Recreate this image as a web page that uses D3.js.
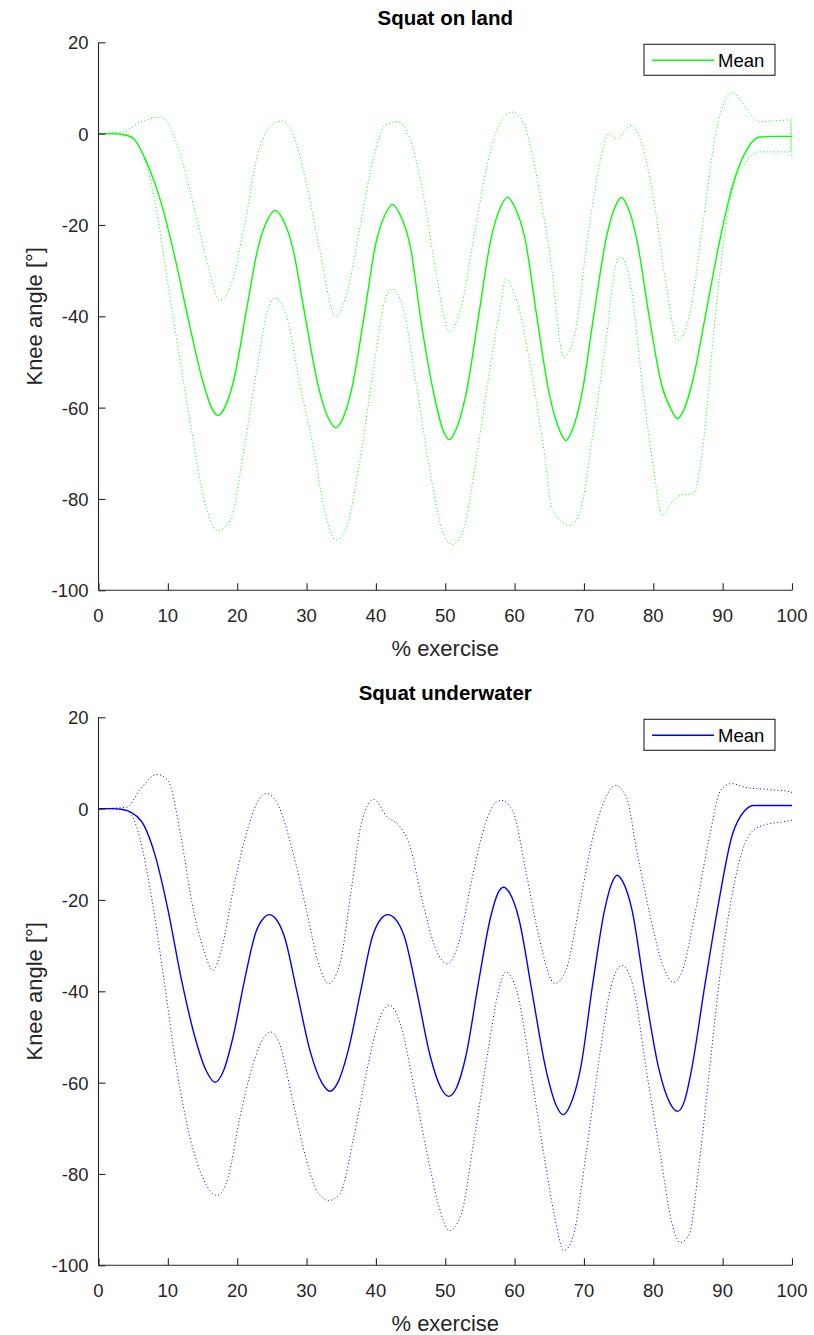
<!DOCTYPE html>
<html>
<head>
<meta charset="utf-8">
<script src="https://cdn.jsdelivr.net/npm/d3@7"></script>
<style>
  body { margin: 0; background: #fff; }
  text { font-family: "Liberation Sans", Arial, Helvetica, sans-serif; }
</style>
</head>
<body>
<div id="vis"></div>
<script>
const svgWidth = 814;
const svgHeight = 1335;

// ticks
const xTicks = [0, 10, 20, 30, 40, 50, 60, 70, 80, 90, 100];
const yTicks = [20, 0, -20, -40, -60, -80, -100];

// Squat on land, [% exercise, knee angle]
const landMean = [
  [0, 0], [2, 0], [3.5, -0.2], [5, -1], [7, -6.5], [9, -15], [11, -27], [13, -41], [15, -54], [16.3, -60], [17.2, -61.7],
  [18.2, -60], [19.5, -54], [21.3, -39], [23, -25], [24.5, -18.5], [25.5, -16.8], [26.5, -18.5], [28, -25], [29.8, -40],
  [31.8, -56], [33.2, -62.5], [34.2, -64.4], [35.2, -62.5], [36.5, -56], [38.3, -40], [40, -24], [41.4, -17.5], [42.4, -15.5],
  [43.4, -17.5], [45, -25], [46.5, -41], [48.5, -58], [49.7, -65], [50.6, -67], [51.5, -65], [53, -57], [54.8, -40],
  [56.6, -23], [58, -16], [59, -13.9], [60, -16], [61.5, -23], [63.2, -40], [65, -57], [66.5, -65], [67.4, -67.2],
  [68.3, -65], [69.7, -57], [71.4, -40], [73.2, -23], [74.5, -16], [75.4, -14], [76.3, -16], [77.6, -23], [79.4, -40],
  [81.2, -55], [82.6, -60.5], [83.5, -62.4], [84.4, -60.5], [85.7, -54], [87.5, -40], [89.5, -24], [91.5, -11],
  [93.5, -3.5], [95.2, -0.8], [97, -0.6], [100, -0.6]
];
const landUpper = [
  [0, 0], [3.5, 0.3], [6, 2.5], [9, 3.6], [10.3, 1.5], [11.6, -3.6], [13.9, -16.8], [15.8, -29], [17.4, -36.5], [19, -33.6],
  [21, -20.4], [22.9, -5], [24.5, 1.1], [26.5, 2.8], [28, 0], [30, -11], [31.9, -25.5], [34.2, -40], [35.8, -35],
  [37.7, -20.4], [39.7, -5], [41.3, 1.8], [43.2, 2.6], [44.8, -0.7], [46.8, -13], [48.7, -30.7], [50.6, -43.4],
  [52.3, -38], [54.2, -22], [56.1, -6.6], [58.1, 2.9], [59.7, 4.7], [61.3, 2.2], [63.2, -9.5], [65.2, -27.7],
  [67.1, -49], [68.7, -43.8], [70.6, -22], [72.6, -4.4], [73.5, 0], [74.8, -1.1], [76.8, 1.8], [78, -0.7], [80, -13.9],
  [81.9, -33.6], [83.5, -45.3], [85.2, -40], [87.1, -20.4], [89, 0], [90.6, 8], [91.4, 9], [92.5, 7.5], [93.9, 4.4],
  [95.2, 2.6], [97.5, 2.8], [99.7, 3], [100, -5.5]
];
const landLower = [
  [0, 0], [4, -0.3], [6.1, -3.6], [8.1, -14.6], [10, -32.8], [11.9, -51], [13.5, -65.7], [15.2, -80], [17.2, -86.9],
  [19, -84.7], [21, -69], [22.9, -51], [24.5, -38], [25.5, -36], [27.1, -40], [29, -54.7], [31, -69], [32.6, -82.5],
  [34.2, -89], [35.8, -86], [37.7, -71.5], [39.7, -51], [41.3, -36.5], [42.3, -34], [43.9, -38], [45.8, -54.7],
  [47.7, -73], [49.4, -86], [51, -90], [52.6, -86.9], [54.5, -70.8], [56.5, -51], [58.1, -36.5], [58.7, -31.8],
  [60.3, -36.5], [62.3, -51], [64.2, -69], [65.5, -82.5], [68, -85.8], [69.4, -83], [71.3, -65.7], [73.2, -45],
  [74.8, -27.7], [75.3, -27], [76.8, -33.6], [78.4, -54.7], [80, -73], [81.3, -83.6], [82.9, -80.3], [83.9, -79.2],
  [85.8, -78.8], [87.1, -69.3], [88.7, -43.8], [90, -25.5], [91.3, -13], [93.2, -6.6], [95.2, -4], [99.7, -4], [100, 4]
];

// Squat underwater
const waterMean = [
  [0, 0], [2, 0], [3.5, -0.2], [6.1, -2.6], [8.1, -9.9], [10, -22], [11.9, -37], [13.9, -50], [15.5, -57.3], [16.8, -59.9],
  [18, -57.5], [19.4, -50], [21, -38], [22.7, -27], [23.8, -24], [24.6, -23.2], [25.5, -24], [26.8, -28], [28.6, -40],
  [30.5, -53], [32.2, -60], [33.4, -61.9], [34.5, -60], [36, -53], [37.8, -40], [39.5, -28], [40.8, -24], [41.7, -23.2],
  [42.7, -24], [44.1, -28], [45.9, -40], [47.8, -54], [49.5, -61.5], [50.5, -63], [51.5, -61.5], [53, -54], [54.8, -38],
  [56.5, -24], [57.6, -18.5], [58.4, -17.2], [59.3, -18.5], [60.6, -24], [62.5, -40], [64.5, -57], [66, -65], [67, -67],
  [68, -65], [69.5, -57], [71.3, -38], [73, -22], [74.1, -16], [74.8, -14.6], [75.6, -16], [76.9, -22], [78.8, -40],
  [80.8, -57], [82.4, -64.5], [83.5, -66.3], [84.5, -64], [85.5, -57.3], [87.4, -39], [89.4, -20.8], [91.3, -6.2],
  [93.2, -0.4], [94.5, 0.7], [100, 0.7]
];
const waterUpper = [
  [0, 0], [4, 0.3], [6.1, 4.4], [8.4, 7.5], [10, 6.2], [11.9, -6.2], [13.5, -20.8], [15.2, -31], [16.5, -35.4],
  [17.7, -31], [19.7, -15.7], [21.6, -4], [23.2, 2.2], [24.2, 3.3], [25.8, 1.1], [28.1, -9.9], [30, -22.3], [31.6, -33.2],
  [33.2, -38.3], [34.8, -34], [36.5, -17.2], [38, -2.6], [39.7, 2], [41.6, -1.8], [43.5, -4], [44.8, -7.7],
  [46.8, -20.8], [48.7, -31], [50.3, -34], [51.9, -29.6], [53.9, -15], [55.8, -3.3], [57.4, 1.5], [58.1, 1.8],
  [59.7, -0.4], [61.6, -13.5], [63.5, -28], [65.8, -38.3], [67.4, -35.4], [69.4, -20.8], [71.3, -6.2], [73.2, 2.6],
  [74.5, 5.1], [76.1, 2.6], [77.7, -9.9], [79.7, -24.5], [81.3, -34], [82.9, -38], [84.2, -35.4], [86.1, -22.3],
  [88.1, -6.2], [89.7, 4], [91.3, 5.5], [93.2, 4.7], [96.5, 4.2], [99.7, 3.7], [100, 3.5]
];
const waterLower = [
  [0, 0], [4, -0.3], [5.5, -4], [7.4, -17.2], [9.4, -37], [11.3, -57.3], [13.2, -72], [15.2, -81.4], [17.1, -84.7],
  [18.7, -80.7], [20.3, -68.3], [22.3, -55.9], [23.9, -50], [24.8, -48.9], [26.1, -51.5], [28.1, -64.6], [30, -77],
  [31.6, -84], [33.2, -85.8], [34.8, -84.4], [36.8, -72], [38.7, -57.3], [40.6, -45.7], [41.9, -43], [43.5, -47],
  [45.5, -61], [47.4, -75.6], [49, -86.6], [50.6, -92.4], [52.3, -88.8], [54.2, -72], [56.1, -53.7], [57.7, -39.8],
  [58.7, -35.8], [60.3, -39.8], [62.3, -57.3], [64.2, -75.6], [65.8, -89.5], [67.1, -96.8], [68.4, -93.9],
  [70.3, -75.6], [72.3, -53.7], [73.9, -39], [75.5, -34.3], [77.1, -39], [79, -57.3], [81, -75.6], [82.6, -90.2],
  [83.9, -95], [85.2, -93.1], [86.5, -79.3], [88.1, -57.3], [89.7, -35.4], [91.3, -19.4], [93.2, -7.7], [95.2, -4],
  [99.7, -2.6], [100, -2.5]
];

const panels = [
  { title: 'Squat on land', color: '#00ff00', top: 42.3, mean: landMean, upper: landUpper, lower: landLower },
  { title: 'Squat underwater', color: '#0000ff', top: 717.3, mean: waterMean, upper: waterUpper, lower: waterLower }
];

const AXIS_LEFT = 98.5;
const AXIS_RIGHT = 792;
const PLOT_HEIGHT = 548;
const AXIS_COLOR = '#262626';

const svg = d3.select('#vis').append('svg').attr('width', svgWidth).attr('height', svgHeight);

function drawPanel(p) {
  const x = d3.scaleLinear().domain([0, 100]).range([AXIS_LEFT, AXIS_RIGHT]);
  const y = d3.scaleLinear().domain([-100, 20]).range([p.top + PLOT_HEIGHT, p.top]);
  const g = svg.append('g');

  const line = d3
    .line()
    .x((d) => x(d[0]))
    .y((d) => y(d[1]))
    .curve(d3.curveMonotoneX);

  // dotted bounds
  [p.upper, p.lower].forEach((s) => {
    g.append('path')
      .datum(s)
      .attr('fill', 'none')
      .attr('stroke', p.color)
      .attr('stroke-width', 1)
      .attr('stroke-dasharray', '1,2.5')
      .attr('d', line);
  });

  g.append('path')
    .datum(p.mean)
    .attr('fill', 'none')
    .attr('stroke', p.color)
    .attr('stroke-width', 1.4)
    .attr('d', line);

  // axes, ticks inward, no box
  const xAxis = d3.axisTop(x).tickValues(xTicks).tickSize(7).tickFormat('');
  const yAxis = d3.axisRight(y).tickValues(yTicks).tickSize(7).tickFormat('');

  const xg = g.append('g').attr('transform', `translate(0,${p.top + PLOT_HEIGHT})`).call(xAxis);
  const yg = g.append('g').attr('transform', `translate(${AXIS_LEFT},0)`).call(yAxis);
  [xg, yg].forEach((a) => {
    a.selectAll('path').attr('stroke', AXIS_COLOR).attr('stroke-width', 1.1);
    a.selectAll('line').attr('stroke', AXIS_COLOR).attr('stroke-width', 1.1);
  });
  xg.select('.domain').attr('d', `M${AXIS_LEFT},0H${AXIS_RIGHT}`);
  yg.select('.domain').attr('d', `M0,${p.top}V${p.top + PLOT_HEIGHT}`);

  // tick labels
  g.selectAll('.xlab')
    .data(xTicks)
    .enter()
    .append('text')
    .attr('x', (d) => x(d))
    .attr('y', p.top + PLOT_HEIGHT + 32)
    .attr('text-anchor', 'middle')
    .attr('font-size', 18.5)
    .attr('fill', AXIS_COLOR)
    .text((d) => d);

  g.selectAll('.ylab')
    .data(yTicks)
    .enter()
    .append('text')
    .attr('x', AXIS_LEFT - 10)
    .attr('y', (d) => y(d) + 7)
    .attr('text-anchor', 'end')
    .attr('font-size', 18.5)
    .attr('fill', AXIS_COLOR)
    .text((d) => d);

  g.append('text')
    .attr('x', (AXIS_LEFT + AXIS_RIGHT) / 2)
    .attr('y', p.top + PLOT_HEIGHT + 66)
    .attr('text-anchor', 'middle')
    .attr('font-size', 22)
    .attr('fill', AXIS_COLOR)
    .text('% exercise');

  g.append('text')
    .attr('transform', `translate(42,${p.top + PLOT_HEIGHT / 2}) rotate(-90)`)
    .attr('text-anchor', 'middle')
    .attr('font-size', 22)
    .attr('fill', AXIS_COLOR)
    .text('Knee angle [°]');

  g.append('text')
    .attr('x', (AXIS_LEFT + AXIS_RIGHT) / 2)
    .attr('y', p.top - 17)
    .attr('text-anchor', 'middle')
    .attr('font-size', 20.5)
    .attr('font-weight', 'bold')
    .attr('fill', '#000')
    .text(p.title);

  // legend
  const ly = p.top + 18;
  g.append('rect')
    .attr('x', 644)
    .attr('y', ly - 16)
    .attr('width', 131)
    .attr('height', 31)
    .attr('fill', '#fff')
    .attr('stroke', AXIS_COLOR)
    .attr('stroke-width', 1.1);
  g.append('line')
    .attr('x1', 652)
    .attr('x2', 714)
    .attr('y1', ly)
    .attr('y2', ly)
    .attr('stroke', p.color)
    .attr('stroke-width', 1.4);
  g.append('text')
    .attr('x', 718)
    .attr('y', ly + 7)
    .attr('font-size', 18.5)
    .attr('fill', '#000')
    .text('Mean');
}

panels.forEach(drawPanel);
</script>
</body>
</html>
